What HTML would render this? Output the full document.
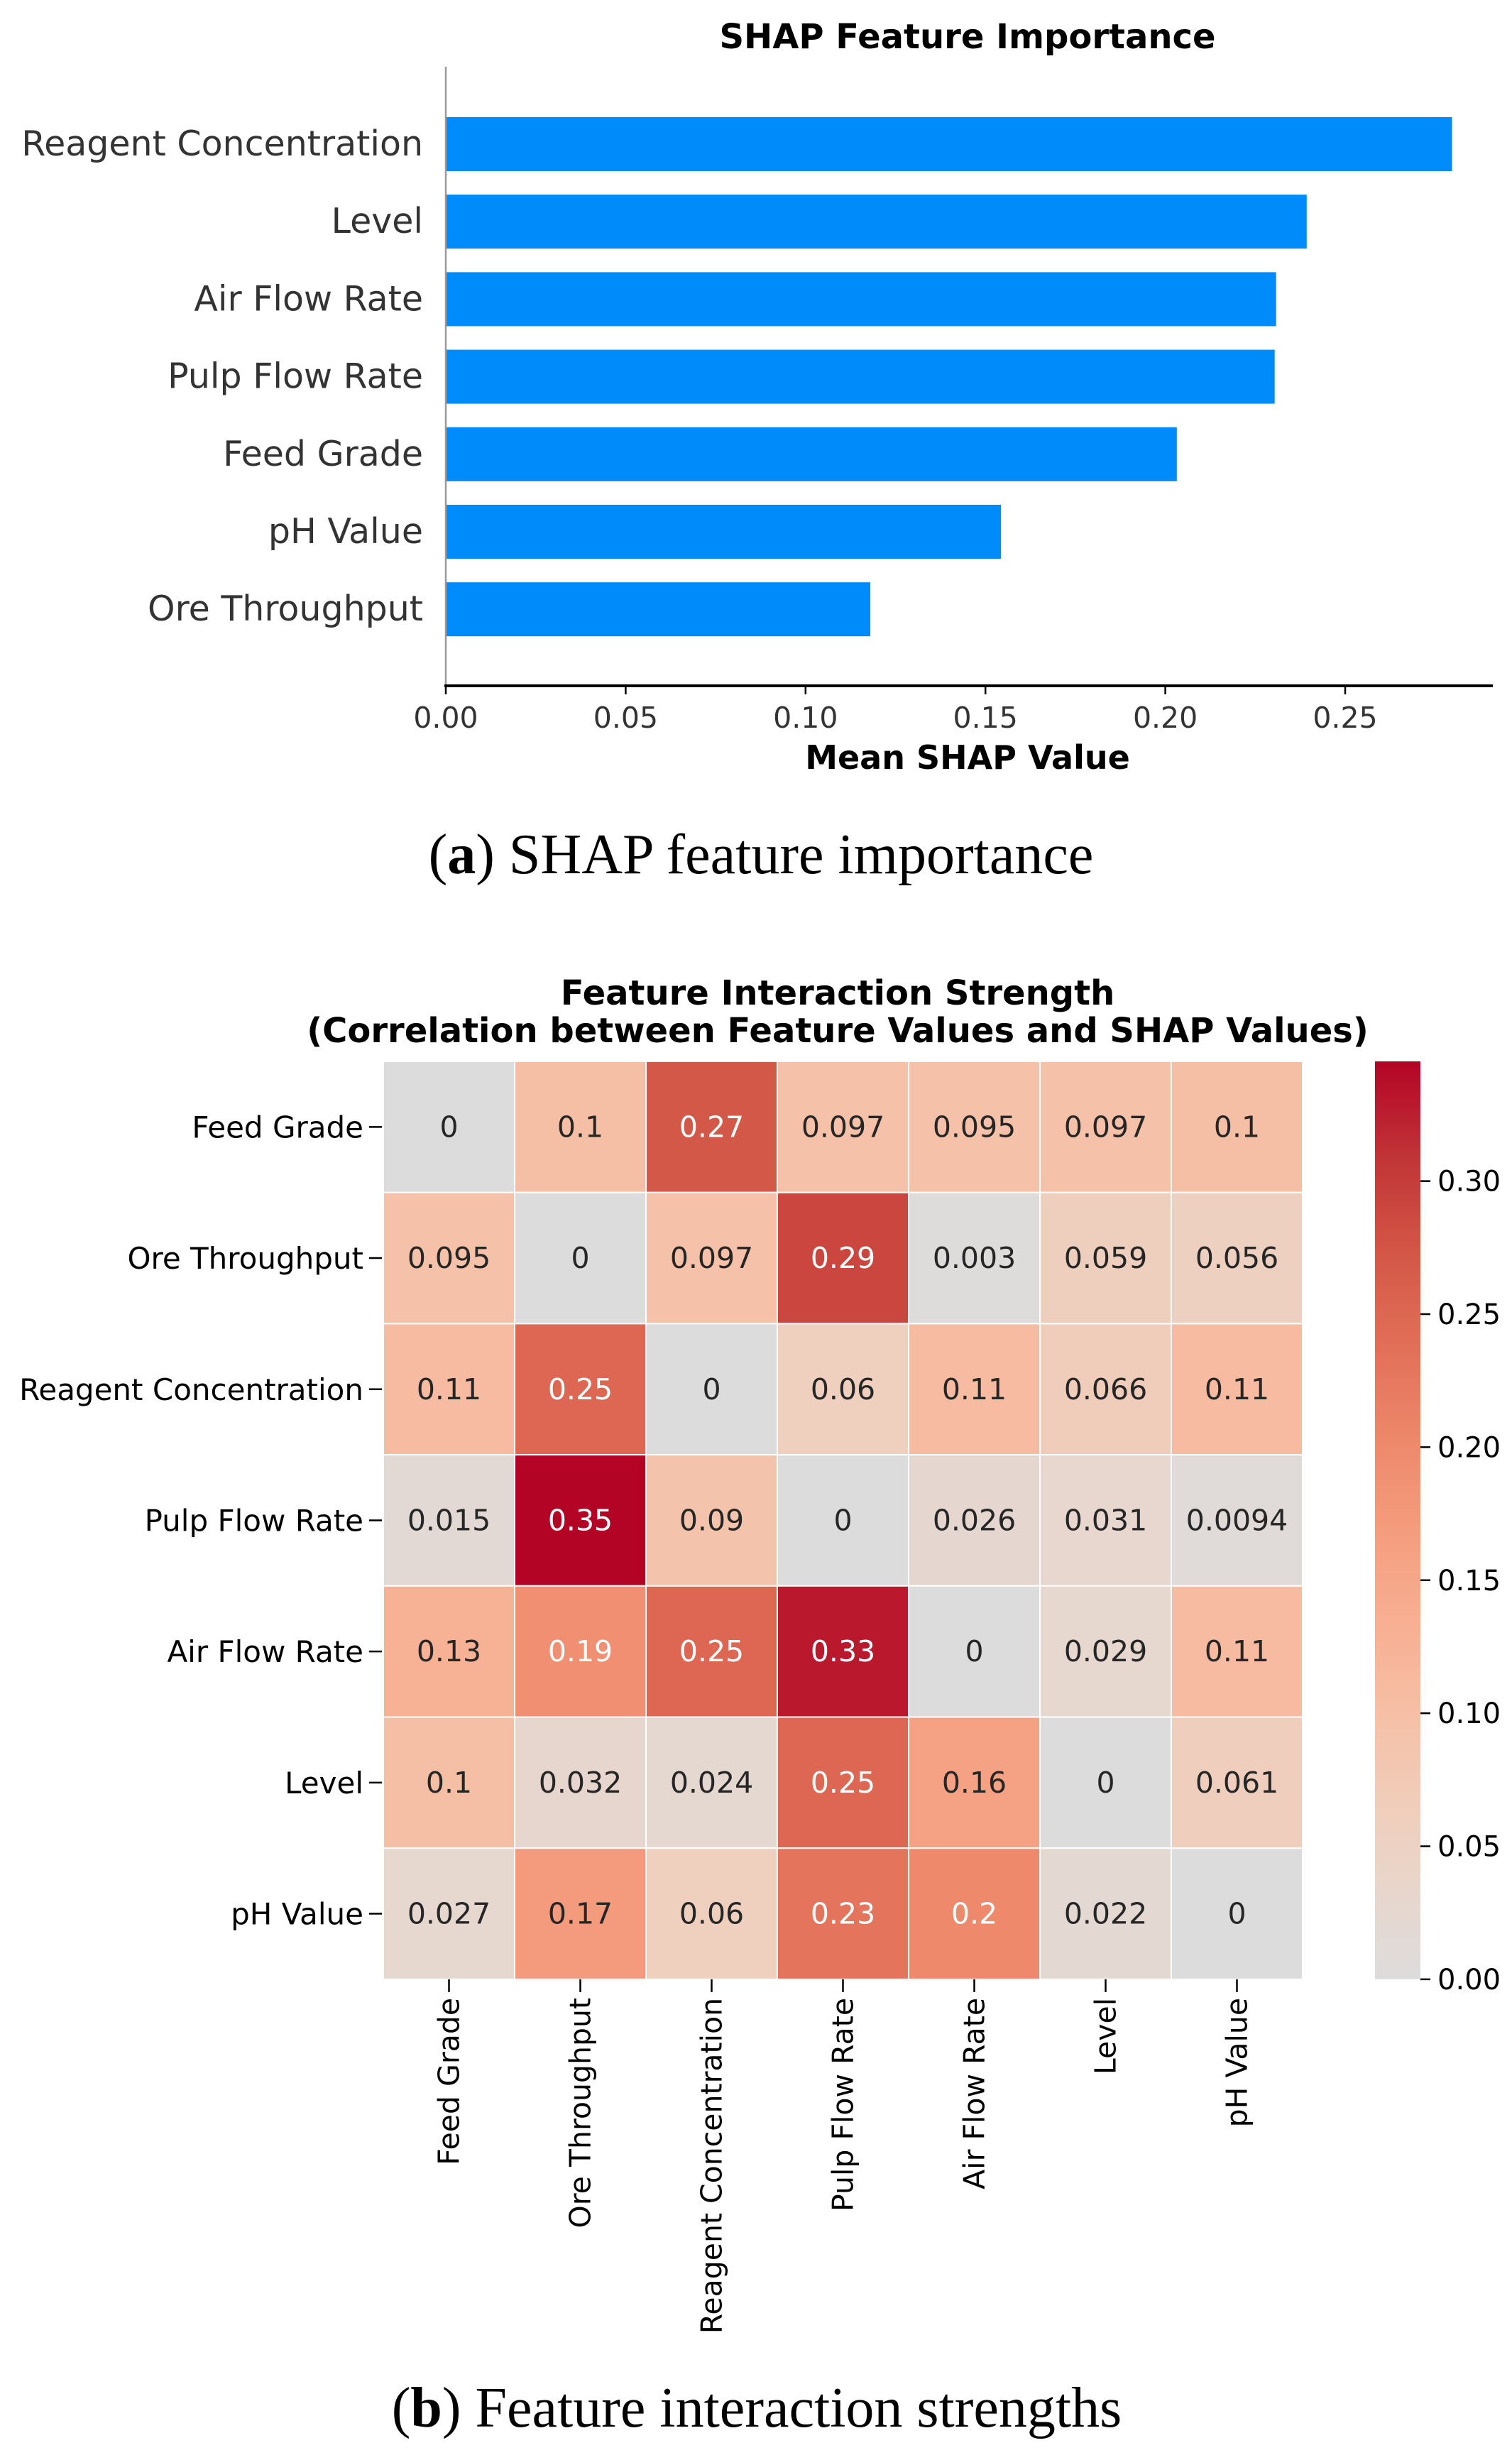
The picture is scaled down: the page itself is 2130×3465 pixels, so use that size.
<!DOCTYPE html>
<html><head><meta charset="utf-8"><style>
html,body{margin:0;padding:0;background:#fff;}
svg{display:block;font-family:"DejaVu Sans","Liberation Sans",sans-serif;}
</style></head><body>
<svg id="fig" width="2130" height="3465" viewBox="0 0 2130 3465" xmlns="http://www.w3.org/2000/svg">
<g id="barChart"></g>
<g id="heat"></g>
</svg>
<script>
const NS="http://www.w3.org/2000/svg";
const barLabels=["Reagent Concentration","Level","Air Flow Rate","Pulp Flow Rate","Feed Grade","pH Value","Ore Throughput"];
const barValues=[0.2797,0.2393,0.2308,0.2304,0.2032,0.1543,0.118];
const barTicks=[0,0.05,0.10,0.15,0.20,0.25];
const hmLabels=["Feed Grade","Ore Throughput","Reagent Concentration","Pulp Flow Rate","Air Flow Rate","Level","pH Value"];
const hmValues=[
[0,0.1,0.27,0.097,0.095,0.097,0.1],
[0.095,0,0.097,0.29,0.003,0.059,0.056],
[0.11,0.25,0,0.06,0.11,0.066,0.11],
[0.015,0.35,0.09,0,0.026,0.031,0.0094],
[0.13,0.19,0.25,0.33,0,0.029,0.11],
[0.1,0.032,0.024,0.25,0.16,0,0.061],
[0.027,0.17,0.06,0.23,0.2,0.022,0]];
const hmText=[
["0","0.1","0.27","0.097","0.095","0.097","0.1"],
["0.095","0","0.097","0.29","0.003","0.059","0.056"],
["0.11","0.25","0","0.06","0.11","0.066","0.11"],
["0.015","0.35","0.09","0","0.026","0.031","0.0094"],
["0.13","0.19","0.25","0.33","0","0.029","0.11"],
["0.1","0.032","0.024","0.25","0.16","0","0.061"],
["0.027","0.17","0.06","0.23","0.2","0.022","0"]];
const cbTicks=[0,0.05,0.10,0.15,0.20,0.25,0.30];
const cbMax=0.345;

function mk(tag,attrs,parent,text){const e=document.createElementNS(NS,tag);for(const k in attrs)e.setAttribute(k,attrs[k]);if(text!==undefined)e.textContent=text;parent.appendChild(e);return e;}
const svg=document.getElementById('fig');

// ---- bar chart ----
const bc=document.getElementById('barChart');
const X0=628,PX=(1895-628)/0.25;
const xs=v=>X0+v*PX;
const y0=203,step=109.2,bh=76;
let t=mk('text',{x:1363,y:68,'text-anchor':'middle','font-size':48,'font-weight':'bold',fill:'#000'},bc,'SHAP Feature Importance');

barValues.forEach((v,i)=>{
  const cy=y0+i*step;
  const r=mk('rect',{x:X0,y:cy-bh/2,width:xs(v)-X0,height:bh,fill:'#008bfb'},bc);
  
  
  const l=mk('text',{x:596,y:cy+16,'text-anchor':'end','font-size':49,fill:'#333'},bc,barLabels[i]);
  
  
});
let ax=mk('line',{x1:X0,y1:94,x2:X0,y2:966,stroke:'#999',"stroke-width":2.5},bc);

ax=mk('line',{x1:X0-2,y1:966,x2:2103,y2:966,stroke:'#000',"stroke-width":4},bc);

barTicks.forEach(v=>{
  mk('line',{x1:xs(v),y1:966,x2:xs(v),y2:978,stroke:'#000','stroke-width':2.5},bc);
  const l=mk('text',{x:xs(v),y:1025,'text-anchor':'middle','font-size':41,fill:'#333'},bc,v.toFixed(2));
  
  
});
t=mk('text',{x:1363,y:1083,'text-anchor':'middle','font-size':46,'font-weight':'bold',fill:'#000'},bc,'Mean SHAP Value');

t=mk('text',{x:1072,y:1230,'text-anchor':'middle','font-size':80,fill:'#000','font-family':'"Liberation Serif",serif'},bc);
t.innerHTML='(<tspan font-weight="bold">a</tspan>) SHAP feature importance';


// ---- heatmap ----
const hm=document.getElementById('heat');
const stops=[[0.5,[221,220,220]],[0.55,[232,214,204]],[0.6,[241,204,184]],[0.65,[246,190,164]],[0.7,[247,173,144]],[0.75,[244,154,123]],[0.8,[236,133,104]],[0.85,[224,109,86]],[0.9,[210,84,69]],[0.95,[192,50,54]],[1.0,[180,4,38]]];
function col(v){let tt=0.5+0.5*Math.min(v/cbMax,1);for(let i=1;i<stops.length;i++){if(tt<=stops[i][0]){const a=stops[i-1],b=stops[i];const f=(tt-a[0])/(b[0]-a[0]);return 'rgb('+a[1].map((c,k)=>Math.round(c+(b[1][k]-c)*f)).join(',')+')';}}return 'rgb(180,4,38)';}
const HX=540,HY=1495,CW=185,CH=184.7;
t=mk('text',{x:1180,y:1415,'text-anchor':'middle','font-size':48,'font-weight':'bold',fill:'#000'},hm,'Feature Interaction Strength');

t=mk('text',{x:1180,y:1468,'text-anchor':'middle','font-size':48,'font-weight':'bold',fill:'#000'},hm,'(Correlation between Feature Values and SHAP Values)');

hmValues.forEach((row,i)=>{
  row.forEach((v,j)=>{
    const r=mk('rect',{x:HX+j*CW,y:HY+i*CH,width:CW,height:CH,fill:col(v),stroke:'#fff','stroke-width':2},hm);
    
    
    const tx=mk('text',{x:HX+j*CW+CW/2,y:HY+i*CH+CH/2+14,'text-anchor':'middle','font-size':41,fill:v>0.18?'#fff':'#262626'},hm,hmText[i][j]);
    
    
  });
  const cy=HY+i*CH+CH/2;
  mk('line',{x1:520,y1:cy,x2:538,y2:cy,stroke:'#000','stroke-width':2.5},hm);
  const l=mk('text',{x:512,y:cy+15,'text-anchor':'end','font-size':42,fill:'#000'},hm,hmLabels[i]);
  
  
});
const HB=HY+7*CH;
hmLabels.forEach((lab,j)=>{
  const cx=HX+j*CW+CW/2;
  mk('line',{x1:cx,y1:HB,x2:cx,y2:HB+18,stroke:'#000','stroke-width':2.5},hm);
  const l=mk('text',{x:0,y:0,'text-anchor':'end','font-size':41,fill:'#000',transform:'translate('+(cx+14)+','+(HB+26)+') rotate(-90)'},hm,lab);
  
  
});
// colorbar
const CBX=1937,CBW=64,CBT=HY,CBB=HB;
const defs=mk('defs',{},svg);
const g=mk('linearGradient',{id:'cbg',x1:0,y1:1,x2:0,y2:0},defs);
for(let k=0;k<=20;k++){mk('stop',{offset:k/20,'stop-color':col(cbMax*k/20)},g);}
const cb=mk('rect',{x:CBX,y:CBT,width:CBW,height:CBB-CBT,fill:'url(#cbg)'},hm);

cbTicks.forEach(v=>{
  const y=CBB-v/cbMax*(CBB-CBT);
  mk('line',{x1:CBX+CBW,y1:y,x2:CBX+CBW+14,y2:y,stroke:'#000','stroke-width':2.5},hm);
  const l=mk('text',{x:CBX+CBW+24,y:y+14,'font-size':40,fill:'#000'},hm,v.toFixed(2));
  
  
});
t=mk('text',{x:1066,y:3418,'text-anchor':'middle','font-size':80,fill:'#000','font-family':'"Liberation Serif",serif'},hm);
t.innerHTML='(<tspan font-weight="bold">b</tspan>) Feature interaction strengths';

</script>
</body></html>
